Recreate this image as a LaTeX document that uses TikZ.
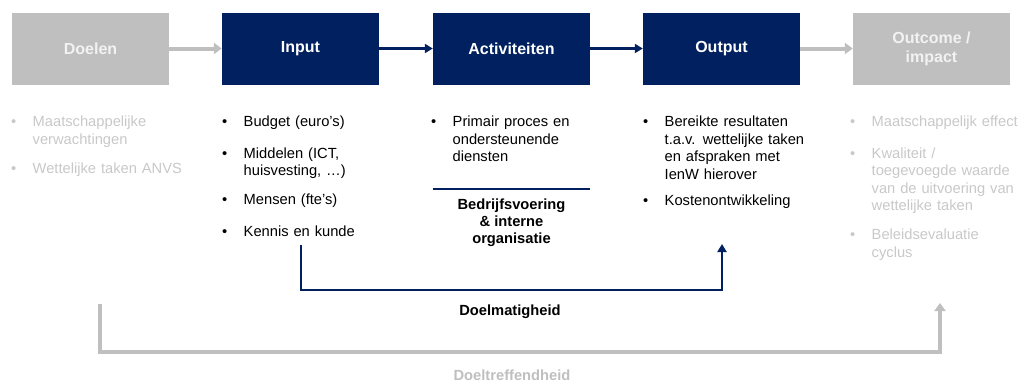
\documentclass[tikz,border=0pt]{standalone}
\usepackage{fontspec}
\setmainfont{Liberation Sans}
\usetikzlibrary{arrows.meta}
\definecolor{B}{RGB}{0,32,96}
\definecolor{G}{RGB}{191,191,191}
\definecolor{T}{RGB}{200,200,200}
\definecolor{W}{RGB}{242,242,242}
\newcommand{\punt}[1]{\noindent\makebox[21.5pt][l]{\textbullet}\parbox[t]{180pt}{\raggedright #1}\par}
\newcommand{\gap}{\vspace{14pt}}
\tikzset{
  fase/.style={minimum width=157pt, minimum height=72pt, inner sep=0pt, align=center, font=\fontsize{16}{19}\selectfont\bfseries},
  bluebox/.style={fase, fill=B, text=white},
  graybox/.style={fase, fill=G, text=W},
  lijst/.style={anchor=north west, inner sep=0pt, text width=200pt, font=\fontsize{14.7}{17.5}\selectfont},
  blauwpijl/.style={draw=B, line width=2.5pt, -{Triangle[length=8pt, width=9pt]}},
  grijspijl/.style={draw=G, line width=4pt, -{Triangle[length=8pt, width=11pt]}}
}
\begin{document}
\begin{tikzpicture}[x=1pt,y=-1pt]
\useasboundingbox (0,0) rectangle (1024,383);
\node[graybox] (doelen) at (90.5,48.5) {Doelen};
\node[bluebox] (input) at (300.5,48.5) {Input};
\node[bluebox] (activiteiten) at (511.5,48.5) {Activiteiten};
\node[bluebox] (output) at (721.5,48.5) {Output};
\node[graybox] (outcome) at (931.5,48.5) {Outcome /\\impact};
\draw[grijspijl] (doelen) -- (input);
\draw[blauwpijl] (input) -- (activiteiten);
\draw[blauwpijl] (activiteiten) -- (output);
\draw[grijspijl] (output) -- (outcome);
\node[lijst, text=T] (doelenlijst) at (11,116) {\punt{Maatschappelijke\\verwachtingen}\gap\punt{Wettelijke taken ANVS}};
\node[lijst] (inputlijst) at (222,116) {\punt{Budget (euro’s)}\gap\punt{Middelen (ICT,\\huisvesting, …)}\gap\punt{Mensen (fte’s)}\gap\punt{Kennis en kunde}};
\node[lijst] (activiteitenlijst) at (431,116) {\punt{Primair proces en\\ondersteunende\\diensten}};
\node[lijst] (outputlijst) at (643,116) {\punt{Bereikte resultaten\\t.a.v. wettelijke taken\\en afspraken met\\IenW hierover}\gap\punt{Kostenontwikkeling}};
\node[lijst, text=T] (outcomelijst) at (850,116) {\punt{Maatschappelijk effect}\gap\punt{Kwaliteit /\\toegevoegde waarde\\van de uitvoering van\\wettelijke taken}\gap\punt{Beleidsevaluatie\\cyclus}};
\draw[B, line width=2.5pt] (activiteiten.west |- 0,189) -- (activiteiten.east |- 0,189);
\node[align=center, font=\fontsize{14.7}{16.8}\selectfont\bfseries] (bedrijf) at (511.5,223) {Bedrijfsvoering\\\& interne\\organisatie};
\coordinate (mvan) at (301,245);
\coordinate (mnaar) at (722,244);
\draw[blauwpijl] (mvan) -- ++(0,45) -| (mnaar);
\node[font=\fontsize{14.7}{17}\selectfont\bfseries] (doelmatig) at (510,312) {Doelmatigheid};
\coordinate (tvan) at (100,304);
\coordinate (tnaar) at (940,303);
\draw[grijspijl] (tvan) -- ++(0,48) -| (tnaar);
\node[text=G, inner sep=1pt, font=\fontsize{14.7}{17}\selectfont\bfseries] (doeltreffend) at (512,375) {Doeltreffendheid};
\end{tikzpicture}
\end{document}
